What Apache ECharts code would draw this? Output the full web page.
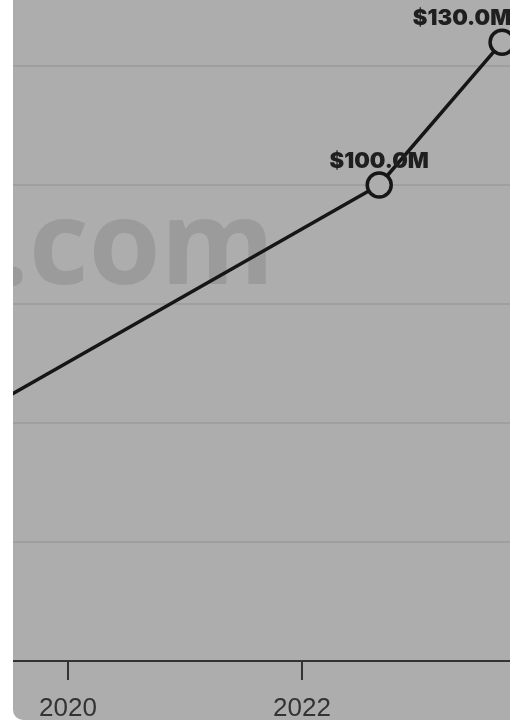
<!DOCTYPE html>
<html>
<head>
<meta charset="UTF-8">
<title>Line chart</title>
<script src="https://cdn.jsdelivr.net/npm/echarts@6/dist/echarts.min.js"></script>
<style>
body {
    margin: 0;
    padding: 0;
    background: #ffffff;
    width: 510px;
    height: 720px;
    overflow: hidden;
}
#wrap {
    position: absolute;
    left: 13px;
    top: 0;
    width: 497px;
    height: 720px;
    overflow: hidden;
    background: #adadad;
    border-bottom-left-radius: 10px;
}
#main {
    position: absolute;
    left: -200px;
    top: -80px;
    width: 800px;
    height: 840px;
}
</style>
</head>
<body>
<div id="wrap"><div id="main"></div></div>
<script>
// years as decimals (points fall mid-year), values in $M
var years = [2018.66, 2022.66, 2023.71];
var values = [44, 100, 130];
var yearTicks = [2018, 2020, 2022, 2024];

var chart = echarts.init(document.getElementById('main'));

var points = [];
for (var i = 0; i < years.length; i++) {
    points.push([years[i], values[i]]);
}

option = {
    backgroundColor: 'transparent',
    animation: false,
    grid: {
        left: 21,
        right: 77,
        top: 27,
        bottom: 99,
        outerBoundsMode: 'none',
        containLabel: false
    },
    graphic: [{
        type: 'text',
        left: 183,
        top: 273,
        z: -10,
        silent: true,
        style: {
            text: '.com',
            fill: '#9b9b9b',
            font: '700 116px "Open Sans", sans-serif'
        }
    }],
    xAxis: {
        type: 'value',
        min: yearTicks[0],
        max: yearTicks[yearTicks.length - 1],
        interval: 2,
        splitLine: { show: false },
        axisLine: { lineStyle: { color: '#333333', width: 2 } },
        axisTick: { show: true, length: 19, lineStyle: { color: '#333333', width: 2 } },
        axisLabel: {
            margin: 35,
            color: '#333333',
            fontSize: 26,
            showMaxLabel: false,
            fontFamily: '"Liberation Sans", Arial, sans-serif',
            formatter: function (v) { return String(v); }
        }
    },
    yAxis: {
        type: 'value',
        min: 0,
        max: 150,
        interval: 25,
        axisLine: { show: false },
        axisTick: { show: false },
        axisLabel: { show: false },
        splitLine: { lineStyle: { color: '#9f9f9f', width: 2 } }
    },
    series: [{
        type: 'line',
        data: points,
        symbol: 'circle',
        symbolSize: 24,
        lineStyle: { color: '#161616', width: 3.5 },
        itemStyle: { color: '#adadad', borderColor: '#161616', borderWidth: 3.5 },
        label: {
            show: true,
            position: 'top',
            distance: -1,
            color: '#1f1f1f',
            fontSize: 22,
            fontWeight: 900,
            fontFamily: 'Inter, sans-serif',
            formatter: function (p) { return '$' + p.value[1].toFixed(1) + 'M'; }
        },
        labelLayout: function (params) {
            if (params.dataIndex === years.length - 1) {
                return { dx: -40 };
            }
            return {};
        }
    }]
};
chart.setOption(option);
</script>
</body>
</html>
